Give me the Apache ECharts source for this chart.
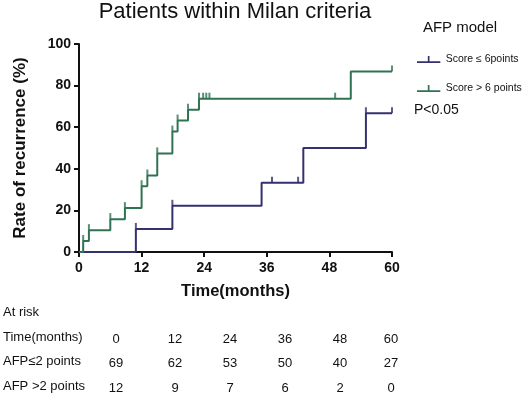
<!DOCTYPE html>
<html>
<head>
<meta charset="utf-8">
<script src="https://cdn.jsdelivr.net/npm/echarts@6/dist/echarts.min.js"></script>
<style>
  html, body { margin: 0; padding: 0; background: #fff; }
  #chart { width: 532px; height: 397px; }
</style>
</head>
<body>
<div id="chart"></div>
<script>
// step curves (time in months, cumulative recurrence %)
var lowTimes = [0, 10.9, 17.9, 35.0, 43.0, 55.0, 60]
var lowValues = [0, 11.1, 22.2, 33.3, 50.0, 66.7, 66.7]
var lowCensor = [10.9, 17.9, 37.0, 42.0, 55.0, 60]

var highTimes = [0, 0.8, 1.9, 6.0, 8.8, 12.0, 13.1, 15.0, 17.9, 18.9, 20.9, 23.0, 52.1, 60]
var highValues = [0, 5.3, 10.5, 15.8, 21.1, 31.6, 36.8, 47.4, 57.9, 63.2, 68.4, 73.7, 86.8, 86.8]
var highCensor = [0.8, 1.9, 6.0, 8.8, 12.0, 13.1, 15.0, 17.9, 18.9, 20.9, 23.0, 23.8, 24.4, 25.0, 49.1, 60]

var xTicks = [0, 12, 24, 36, 48, 60]
var riskLow = [69, 62, 53, 50, 40, 27]
var riskHigh = [12, 9, 7, 6, 2, 0]

var purple = '#35306f'
var green = '#2f7352'

function stepOf (times, values) {
  return times.map(function (t, i) { return [t, values[i]] })
}
function valueAt (times, values, t) {
  var v = 0
  for (var i = 0; i < times.length; i++) {
    if (times[i] <= t) v = values[i]
  }
  return v
}
function censorOf (times, values, marks) {
  return marks.map(function (t) { return [t, valueAt(times, values, t)] })
}

var tickIcon = 'path://M0,5h22v1.6h-22z M10.2,0h1.6v6h-1.6z'

var chart = echarts.init(document.getElementById('chart'))

var graphics = []
var colX = [116, 175, 230, 285, 340, 391]
var rows = [
  { label: 'Time(months)', vals: xTicks, y: 339 },
  { label: 'AFP\u22642 points', vals: riskLow, y: 363 },
  { label: 'AFP >2 points', vals: riskHigh, y: 388 }
]
graphics.push({ type: 'text', left: 3, top: 306, style: { text: 'At risk', font: '13px Arial', fill: '#111' } })
rows.forEach(function (r) {
  graphics.push({ type: 'text', left: 3, top: r.y - 8, style: { text: r.label, font: '13px Arial', fill: '#111' } })
  r.vals.forEach(function (v, i) {
    graphics.push({ type: 'text', x: colX[i], y: r.y, style: { text: String(v), font: '13px Arial', fill: '#111', align: 'center', verticalAlign: 'middle' } })
  })
})
graphics.push({ type: 'text', x: 235, y: 12, style: { text: 'Patients within Milan criteria', font: '22px Arial', fill: '#111', align: 'center', verticalAlign: 'middle' } })
graphics.push({ type: 'text', x: 460, y: 28, style: { text: 'AFP model', font: '15px Arial', fill: '#111', align: 'center', verticalAlign: 'middle' } })
graphics.push({ type: 'text', x: 414, y: 110, style: { text: 'P<0.05', font: '14px Arial', fill: '#111', verticalAlign: 'middle' } })

chart.setOption({
  animation: false,
  backgroundColor: '#fff',
  grid: { left: 79, right: 140, top: 44, bottom: 145, containLabel: false },
  legend: {
    orient: 'vertical',
    left: 412,
    top: 49,
    itemWidth: 24,
    itemHeight: 7,
    itemGap: 18,
    textStyle: { fontFamily: 'Arial', fontSize: 10.5, color: '#111' },
    data: [
      { name: 'Score \u2264 6points', icon: tickIcon, itemStyle: { color: purple } },
      { name: 'Score > 6 points', icon: tickIcon, itemStyle: { color: green } }
    ]
  },
  xAxis: {
    type: 'value',
    min: 0,
    max: 60,
    interval: 12,
    name: 'Time(months)',
    nameLocation: 'middle',
    nameGap: 31,
    nameTextStyle: { fontFamily: 'Arial', fontSize: 16.5, fontWeight: 'bold', color: '#111' },
    axisLine: { lineStyle: { color: '#111', width: 2 } },
    axisTick: { show: true, length: 5, lineStyle: { color: '#111', width: 2 } },
    axisLabel: { fontFamily: 'Arial', fontSize: 14, fontWeight: 'bold', color: '#111', margin: 9 },
    splitLine: { show: false }
  },
  yAxis: {
    type: 'value',
    min: 0,
    max: 100,
    interval: 20,
    name: 'Rate of recurrence (%)',
    nameLocation: 'middle',
    nameGap: 50,
    nameTextStyle: { fontFamily: 'Arial', fontSize: 17, fontWeight: 'bold', color: '#111' },
    axisLine: { show: true, lineStyle: { color: '#111', width: 2 } },
    axisTick: { show: true, length: 5, lineStyle: { color: '#111', width: 2 } },
    axisLabel: { fontFamily: 'Arial', fontSize: 14, fontWeight: 'bold', color: '#111', margin: 8 },
    splitLine: { show: false }
  },
  series: [
    {
      name: 'Score \u2264 6points',
      type: 'line',
      step: 'end',
      data: stepOf(lowTimes, lowValues),
      showSymbol: false,
      lineStyle: { color: purple, width: 2 },
      itemStyle: { color: purple },
      z: 3
    },
    {
      name: 'Score > 6 points',
      type: 'line',
      step: 'end',
      data: stepOf(highTimes, highValues),
      showSymbol: false,
      lineStyle: { color: green, width: 2 },
      itemStyle: { color: green },
      z: 4
    },
    {
      type: 'scatter',
      data: censorOf(lowTimes, lowValues, lowCensor),
      symbol: 'rect',
      symbolSize: [2, 6],
      symbolOffset: [0, -3],
      itemStyle: { color: purple },
      z: 3
    },
    {
      type: 'scatter',
      data: censorOf(highTimes, highValues, highCensor),
      symbol: 'rect',
      symbolSize: [2, 6],
      symbolOffset: [0, -3],
      itemStyle: { color: green },
      z: 4
    }
  ],
  graphic: graphics
})
</script>
</body>
</html>
